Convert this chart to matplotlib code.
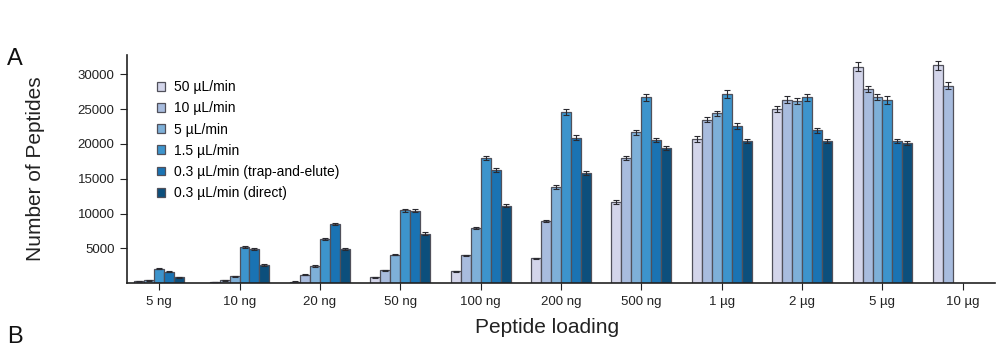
import numpy as np
import matplotlib as mpl
mpl.use('Agg')
import matplotlib.pyplot as plt

plt.rcParams['font.family'] = ['Liberation Sans', 'DejaVu Sans']

loadings = ['5 ng', '10 ng', '20 ng', '50 ng', '100 ng', '200 ng', '500 ng',
            '1 µg', '2 µg', '5 µg', '10 µg']
flow_rates = ['50 µL/min', '10 µL/min', '5 µL/min', '1.5 µL/min',
              '0.3 µL/min (trap-and-elute)', '0.3 µL/min (direct)']
colors = ['#d3d5ea', '#a8bcde', '#7eb0d8', '#3d94cc', '#1a73b3', '#0c4f7c']

nan = np.nan
# peptide IDs per flow rate (rows) and loading (columns)
peptides = [
    [nan, 120, 200, 850, 1700, 3550, 11700, 20700, 25000, 31100, 31300],
    [250, 400, 1200, 1850, 4000, 8950, 18000, 23500, 26400, 27900, 28400],
    [400, 1000, 2450, 4100, 7950, 13850, 21700, 24400, 26200, 26800, nan],
    [2050, 5150, 6300, 10450, 18000, 24600, 26700, 27200, 26700, 26300, nan],
    [1650, 4850, 8550, 10400, 16200, 20900, 20600, 22600, 22000, 20400, nan],
    [850, 2600, 4850, 7100, 11100, 15850, 19400, 20400, 20400, 20200, nan],
]
errors = [
    [nan, 40, 60, 80, 90, 120, 300, 450, 450, 650, 600],
    [60, 60, 80, 80, 100, 150, 280, 400, 450, 450, 450],
    [60, 80, 100, 120, 150, 280, 350, 400, 450, 450, nan],
    [100, 150, 150, 200, 300, 400, 500, 600, 550, 550, nan],
    [100, 150, 150, 200, 300, 350, 300, 400, 350, 300, nan],
    [80, 120, 120, 180, 200, 250, 300, 300, 300, 300, nan],
]

fig = plt.figure(figsize=(10, 3.46), dpi=100)
ax = fig.add_axes([0.127, 0.182, 0.868, 0.659])

x = np.arange(len(loadings))
w = 0.124
table = np.array(peptides, dtype=float)
# groups with a leading missing series are centred on their tick
lead = np.array([np.argmax(~np.isnan(table[:, j])) for j in x])
for i, (name, col) in enumerate(zip(flow_rates, colors)):
    vals = table[i]
    errs = np.array(errors[i], dtype=float)
    pos = x + (i - 2.5) * w - lead * w / 2
    ax.bar(pos, vals, w, color=col, edgecolor='#50505a', linewidth=0.9,
           label=name, zorder=2)
    ax.errorbar(pos, vals, yerr=errs, fmt='none', ecolor='#2a2a30',
                elinewidth=0.8, capsize=2.2, capthick=0.8, zorder=3)

ax.set_xlim(-0.4, 10.4)
ax.set_ylim(0, 32800)
ax.set_yticks([5000, 10000, 15000, 20000, 25000, 30000])
ax.set_xticks(x)
ax.set_xticklabels(loadings)
ax.tick_params(axis='both', labelsize=9.5, length=5, width=0.8,
               colors='#222222', pad=4)
for s in ['top', 'right']:
    ax.spines[s].set_visible(False)
for s in ['left', 'bottom']:
    ax.spines[s].set_linewidth(1.2)
    ax.spines[s].set_color('#222222')

ax.set_ylabel('Number of Peptides', fontsize=15, color='#222222')
ax.yaxis.set_label_coords(-0.094, 0.5)
ax.set_xlabel('Peptide loading', fontsize=15, color='#222222')
ax.xaxis.set_label_coords(0.484, -0.155)

ax.legend(loc='upper left', bbox_to_anchor=(0.0346, 0.89), frameon=False,
          fontsize=10, handlelength=0.6, handleheight=0.6, handletextpad=0.6,
          labelspacing=0.52, borderpad=0, borderaxespad=0)

fig.text(0.007, 0.812, 'A', fontsize=17, color='#111111')
fig.text(0.007, 0.01, 'B', fontsize=17, color='#111111')

fig.savefig('out.png', dpi=100)
